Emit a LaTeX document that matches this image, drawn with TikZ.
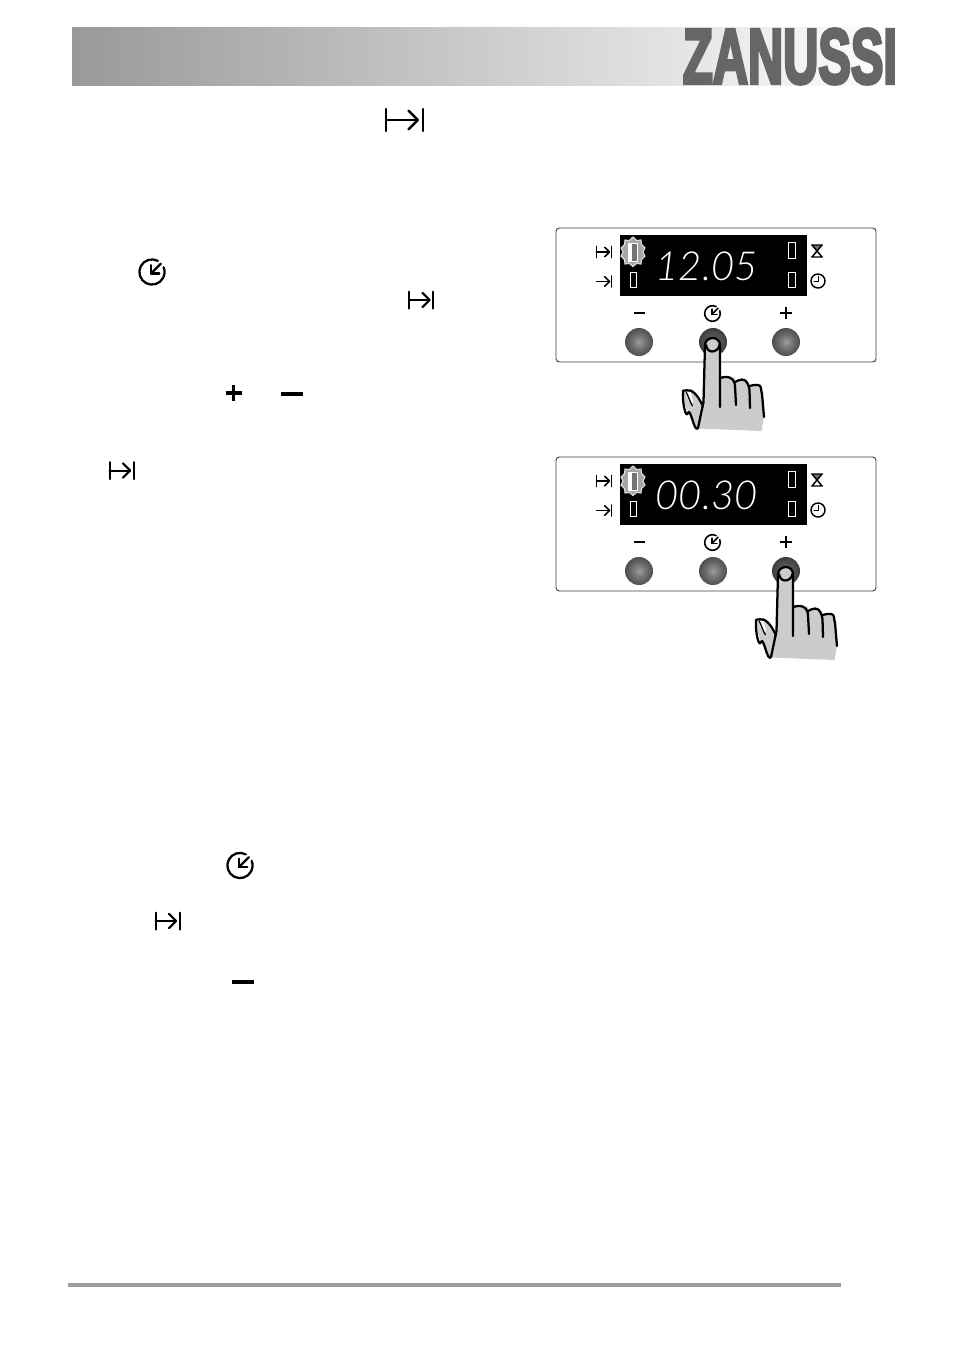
\documentclass[tikz,border=0pt]{standalone}
\usepackage{fontspec}
\setmainfont{Liberation Sans}
\newfontfamily\zanfont[FakeBold=5]{Liberation Sans}
\newfontfamily\segfont{Lato Light Italic}
\definecolor{logogray}{gray}{0.40}
\definecolor{handgray}{gray}{0.80}
\definecolor{rulegray}{gray}{0.62}
\pgfdeclareradialshading{btn}{\pgfpoint{0bp}{0bp}}{color(0bp)=(black!38);color(8bp)=(black!50);color(16bp)=(black!60);color(24bp)=(black!68);color(30bp)=(black!75);color(36bp)=(black!85);color(50bp)=(black!90)}
\pgfdeclareradialshading{btnp}{\pgfpoint{0bp}{0bp}}{color(0bp)=(black!60);color(20bp)=(black!72);color(34bp)=(black!85);color(50bp)=(black!90)}
\tikzset{
  x=0.75pt,y=-0.75pt,
  icon/.style={draw=black,line width=#1,line cap=round,line join=round},
  panelbox/.style={draw=black!75,line width=0.7pt,rounded corners=2.5pt,fill=white},
  lamp/.style={draw=white,line width=0.7pt,fill=black},
  seg/.style={text=white,inner sep=0pt,font=\segfont\fontsize{30}{30}\selectfont},
  handline/.style={draw=black,line width=1.7pt,line cap=round,line join=round},
}
% |->| icon: centre, half width, half height, pen
\newcommand{\stopicon}[5]{\begin{scope}[shift={(#1,#2)},icon=#5]
  \draw (-#3,-#4) -- (-#3,#4);
  \draw (#3,-#4) -- (#3,#4);
  \draw (-#3,0) -- (#3*0.72,0);
  \draw (#3*0.72-#4*0.85,-#4*0.85) -- (#3*0.72,0) -- (#3*0.72-#4*0.85,#4*0.85);
\end{scope}}
% clock with hand to the lower left of the gap
\newcommand{\setclock}[4]{\begin{scope}[shift={(#1,#2)},scale=#3,icon=#4]
  \draw (5.6,-10.6) arc[start angle=-62,end angle=-382,x radius=12,y radius=12];
  \draw (-1,1.5) -- (8.5,-8);
  \draw (-1,-6.5) -- (-1,1.5) -- (7,1.5);
\end{scope}}
\newcommand{\handat}[2]{\begin{scope}[shift={(#1,#2)}]
  \path[fill=handgray] (35,15) to[out=90,in=180] (43,8) to[out=0,in=90] (50,15) -- (50,48) -- (55,48) -- (65,47.5) -- (65,52) -- (72,49.5) -- (79.5,55) -- (88,55) -- (92,64) -- (94,87) -- (91.5,101) -- (28,98.5) -- (18,83) -- (13,68) -- (13,60.7) -- (21,60.7) -- (33,76) -- (35,60) -- cycle;
  \draw[handline] (28,98) -- (33.5,72) -- (35,15) to[out=90,in=180] (43,8) to[out=0,in=90] (50,15) -- (50,77);
  \draw[handline] (36,15) to[out=-80,in=180] (42,21.5) to[out=0,in=-100] (49.5,15);
  \draw[handline] (50,48) to[out=10,in=170] (57,47) to[out=0,in=90] (65,56) -- (66,75);
  \draw[handline] (65,52) to[out=20,in=180] (72,49.5) to[out=0,in=100] (79.5,60) -- (80,78);
  \draw[handline] (79.5,56) to[out=10,in=170] (88,55) to[out=0,in=110] (92,64) -- (94,87);
  \fill[white] (14.5,62) -- (20.5,62) -- (23,72) -- (21,74) -- cycle;
  \draw[draw=black,line width=1pt] (16,62) to[out=-60,in=120] (22.5,76);
  \draw[handline] (28,98) to[out=-120,in=70] (18,83) to[out=-110,in=-90] (13,68) -- (13,60.7) to[out=10,in=170] (21,60.7) to[out=-30,in=120] (33,76);
\end{scope}}
\newcommand{\hourglass}[2]{\begin{scope}[shift={(#1,#2)},icon=1.1pt]
  \fill[black!55] (-5,-6) -- (5,-6) -- (0,0) -- cycle;
  \draw (-5.5,-6) -- (5.5,-6) (-5.5,6) -- (5.5,6) (-5,-6) -- (5,6) (5,-6) -- (-5,6);
\end{scope}}
\newcommand{\burst}[2]{\begin{scope}[shift={(#1,#2)}]
  \draw[fill=black!35,draw=black!12,line width=0.8pt,line join=miter] (0,-15) -- (3.6,-11.5) -- (8,-12) -- (8.5,-7.5) -- (12,-4) -- (10,0) -- (12,4) -- (8.5,7.5) -- (8,12) -- (3.6,11.5) -- (0,14.5) -- (-3.6,11.5) -- (-8,12) -- (-8.5,7.5) -- (-12,4) -- (-10,0) -- (-12,-4) -- (-8.5,-7.5) -- (-8,-12) -- (-3.6,-11.5) -- cycle;
  \fill[white] (-5,-9.5) rectangle (5,9.5);
  \fill[black!55] (-1,-8.5) rectangle (4.2,8.5);
\end{scope}}
\newcommand{\ovenpanel}[3]{\begin{scope}[shift={(0,#1)}]
  \draw[panelbox] (556,228) rectangle (876,362);
  \fill[black] (620,235) rectangle (807,296);
  \burst{633}{252}
  \draw[lamp] (630.5,272) rectangle (636.5,287);
  \draw[lamp] (788.5,242) rectangle (795.5,258);
  \draw[lamp] (788.5,272) rectangle (795.5,287);
  \node[seg,anchor=east] (digits#1) at (758,266.5) {#2};
  \stopicon{604}{252}{7.5}{5.5}{1.2pt}
  \begin{scope}[shift={(604,281.5)},icon=1.2pt]
    \draw (7.5,-5.5) -- (7.5,5.5);
    \draw (-7.5,0) -- (5.5,0);
    \draw (0.8,-4.7) -- (5.5,0) -- (0.8,4.7);
  \end{scope}
  \hourglass{817}{251}
  \begin{scope}[shift={(818,281)},icon=1.1pt]
    \draw (0,0) circle[radius=7];
    \draw (0.3,-4.5) -- (0.3,0.6) -- (-4,0.6);
  \end{scope}
  \draw[icon=1.7pt,line cap=butt] (634,313) -- (645,313);
  \setclock{712.5}{313.5}{0.65}{1.2pt}
  \draw[icon=1.4pt,line cap=butt] (780,313) -- (792,313) (786,307) -- (786,319);
  \foreach \bx in {639,713,786}{
    \ifnum\bx=#3\relax
      \path[shade,shading=btnp] (\bx,342) circle[radius=14];
    \else
      \path[shade,shading=btn] (\bx,342) circle[radius=14];
    \fi
  }
\end{scope}}
\begin{document}
\begin{tikzpicture}
\useasboundingbox (0,0) rectangle (954,1354);
\fill[white] (0,0) rectangle (954,1354);
% banner
\fill[left color=black!40,right color=white] (72,27) rectangle (897,85);
\node[inner sep=0pt,text=logogray,anchor=center] (logo) at (790,56.5) {\resizebox{160.5pt}{40.5pt}{\zanfont\bfseries ZANUSSI}};
% inline icons
\stopicon{404.5}{120}{18.5}{11}{1.8pt}
\setclock{152}{272}{1.05}{1.7pt}
\stopicon{421}{300}{12}{8.5}{1.5pt}
\draw[icon=2.8pt,line cap=butt] (225.5,393) -- (241.5,393);
\draw[icon=2.8pt,line cap=butt] (233.5,385) -- (233.5,401);
\draw[icon=2.6pt,line cap=butt] (281,394) -- (303,394);
\stopicon{121.5}{470.5}{12}{8.5}{1.5pt}
\setclock{240}{865.5}{1.05}{1.7pt}
\stopicon{167.5}{921}{12}{8.5}{1.5pt}
\draw[icon=2.6pt,line cap=butt] (232,982) -- (254,982);
% panels
\ovenpanel{0}{12.05}{713}
\handat{670}{330}
\ovenpanel{229}{00.30}{786}
\handat{743}{559}
% footer rule
\draw[rulegray,line width=3pt] (68,1285) -- (841,1285);
\end{tikzpicture}
\end{document}
